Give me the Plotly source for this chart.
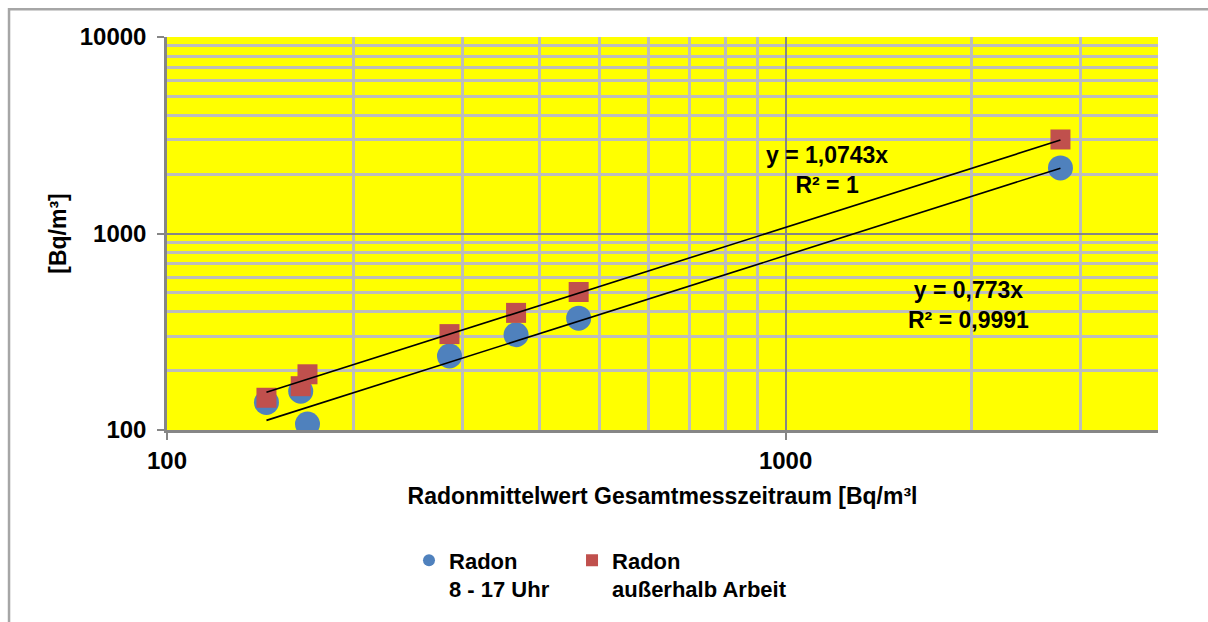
import plotly.graph_objects as go
import numpy as np

# Data
x_gesamt = [144.8, 164.5, 168.7, 286.2, 366.7, 462.9, 2782]
y_arbeit = [138.1, 157.6, 107.2, 238.1, 305.2, 370.8, 2156]      # Radon 8 - 17 Uhr
y_ausser = [145.9, 167.1, 192.1, 307.6, 394.5, 503.9, 3009]      # Radon außerhalb Arbeit

slope_arbeit = 0.773
slope_ausser = 1.0743
label_arbeit = ["y = 0,773x", "R² = 0,9991"]
label_ausser = ["y = 1,0743x", "R² = 1"]

name_arbeit = "Radon<br>8 - 17 Uhr"
name_ausser = "Radon<br>außerhalb Arbeit"

x_title = "Radonmittelwert Gesamtmesszeitraum [Bq/m³l"
y_title = "[Bq/m³]"

x_major = [100, 1000]
x_minor = [200, 300, 400, 500, 600, 700, 800, 900, 2000, 3000, 4000]
y_major = [100, 1000, 10000]
y_minor = [200, 300, 400, 500, 600, 700, 800, 900,
           2000, 3000, 4000, 5000, 6000, 7000, 8000, 9000]

FONT = "Liberation Sans, Arial, sans-serif"

fig = go.Figure()

fig.add_trace(go.Scatter(
    x=x_gesamt, y=y_arbeit, mode="markers", name=name_arbeit, legend="legend",
    marker=dict(symbol="circle", size=25, color="#4F81BD", line=dict(width=0)),
))
fig.add_trace(go.Scatter(
    x=x_gesamt, y=y_ausser, mode="markers", name=name_ausser, legend="legend2",
    marker=dict(symbol="square", size=20, color="#C0504D", line=dict(width=0)),
))

xs = [min(x_gesamt), max(x_gesamt)]
fig.add_trace(go.Scatter(
    x=xs, y=[slope_ausser * v for v in xs], mode="lines",
    line=dict(color="black", width=1.6), showlegend=False, hoverinfo="skip",
))
fig.add_trace(go.Scatter(
    x=xs, y=[slope_arbeit * v for v in xs], mode="lines",
    line=dict(color="black", width=1.6), showlegend=False, hoverinfo="skip",
))


def bold_lines(lines):
    return "<br>".join("<b>%s</b>" % s for s in lines)


fig.add_annotation(x=np.log10(1166), y=np.log10(2113), xref="x", yref="y",
                   text=bold_lines(label_ausser),
                   showarrow=False, align="center",
                   font=dict(family=FONT, size=23, color="black"))
fig.add_annotation(x=np.log10(1977), y=np.log10(432), xref="x", yref="y",
                   text=bold_lines(label_arbeit),
                   showarrow=False, align="center",
                   font=dict(family=FONT, size=23, color="black"))

# outer chart border
fig.add_shape(type="rect", xref="paper", yref="paper",
              x0=-0.1594, x1=1.2, y0=-0.7, y1=1.0709,
              line=dict(color="#a6a6a6", width=2.5), fillcolor="rgba(0,0,0,0)",
              layer="below")

legend_common = dict(
    orientation="v", y=-0.2785, xanchor="left", yanchor="top",
    font=dict(family=FONT, size=22, color="black", weight="bold"),
    valign="top", itemsizing="constant", bgcolor="rgba(0,0,0,0)",
    borderwidth=0,
)

fig.update_layout(
    width=1208, height=622,
    margin=dict(l=167, r=50, t=37, b=190),
    paper_bgcolor="white",
    plot_bgcolor="#FFFF00",
    font=dict(family=FONT, color="black"),
    legend=dict(x=0.2442, **legend_common),
    legend2=dict(x=0.4087, **legend_common),
    xaxis=dict(
        type="log", range=[2, np.log10(4000)],
        tickvals=x_major, ticktext=[str(v) for v in x_major],
        ticks="outside", ticklen=7, tickwidth=2, tickcolor="#868686",
        showline=True, linecolor="#868686", linewidth=2.5,
        showgrid=True, gridcolor="#868686", gridwidth=2,
        minor=dict(tickvals=x_minor, showgrid=True, gridcolor="#bdbdbd",
                   gridwidth=2.5, ticks=""),
        tickfont=dict(family=FONT, size=24, color="black", weight="bold"),
        title=dict(text=x_title, standoff=16,
                   font=dict(family=FONT, size=23, color="black", weight="bold")),
        zeroline=False,
    ),
    yaxis=dict(
        type="log", range=[2, 4],
        tickvals=y_major, ticktext=[str(v) for v in y_major],
        ticks="outside", ticklen=7, tickwidth=2, tickcolor="#868686",
        showline=True, linecolor="#868686", linewidth=2.5,
        showgrid=True, gridcolor="#868686", gridwidth=2,
        minor=dict(tickvals=y_minor, showgrid=True, gridcolor="#bdbdbd",
                   gridwidth=2.5, ticks=""),
        tickfont=dict(family=FONT, size=24, color="black", weight="bold"),
        ticklabelstandoff=6,
        title=dict(text=y_title, standoff=7,
                   font=dict(family=FONT, size=23, color="black", weight="bold")),
        zeroline=False,
    ),
)

fig.write_html("out.html")
